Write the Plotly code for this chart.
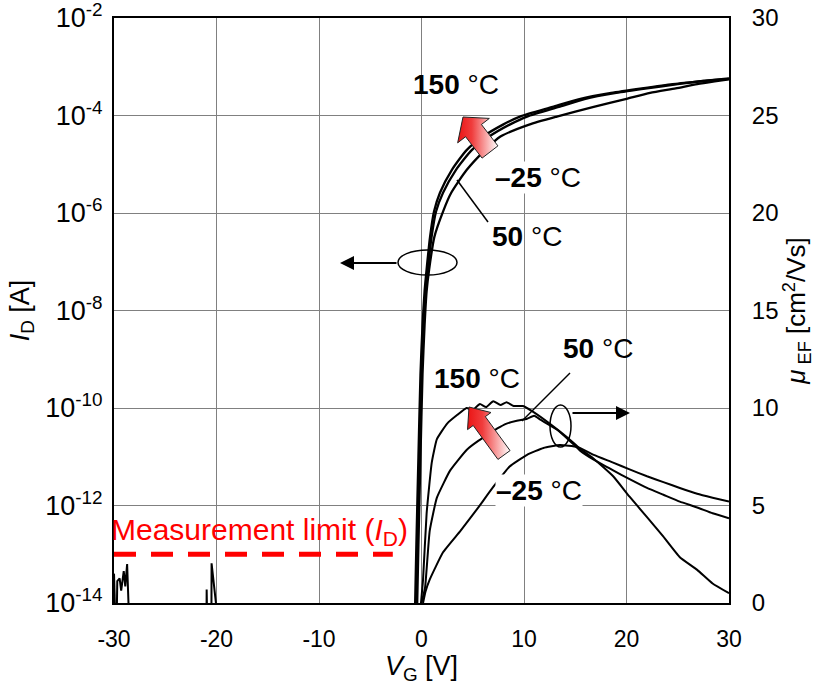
import numpy as np
import plotly.graph_objects as go

# ---------------- data ----------------
VG_TICKS = [-30, -20, -10, 0, 10, 20, 30]
VG_TICK_TEXT = ["-30", "-20", "-10", "0", "10", "20", "30"]
ID_TICKS = [1e-2, 1e-4, 1e-6, 1e-8, 1e-10, 1e-12, 1e-14]
ID_TICK_TEXT = ["10<sup>-2</sup>", "10<sup>-4</sup>", "10<sup>-6</sup>", "10<sup>-8</sup>",
                "10<sup>-10</sup>", "10<sup>-12</sup>", "10<sup>-14</sup>"]
MU_TICKS = [0, 5, 10, 15, 20, 25, 30]

# Drain current I_D [A] vs V_G [V]
VG_ID_150 = [-0.65, -0.5, -0.3, -0.1, 0.1, 0.3, 0.5, 0.83, 1.22, 1.8, 2.95, 4.4, 6.0, 7.95, 9.6, 12.8, 15.5,
             18.5, 21.5, 24.5, 27.5, 30.0]
ID_150 = [5.0e-15, 1.6e-13, 1e-11, 5.0e-10, 5.0e-9, 2.5e-8, 7.1e-8, 3.2e-7, 1.07e-6, 2.6e-6, 7.6e-6, 1.95e-5,
          3.7e-5, 6.5e-5, 9.5e-5, 1.5e-4, 2.2e-4, 2.9e-4, 3.6e-4, 4.4e-4, 5.1e-4, 5.75e-4]
VG_ID_50 = [-0.55, -0.4, -0.2, 0.0, 0.2, 0.4, 0.62, 0.98, 1.42, 2.1, 3.35, 4.9, 6.6, 8.6, 10.3, 13.4, 16.0,
            19.0, 22.0, 25.0, 27.5, 30.0]
ID_50 = [5.0e-15, 1.6e-13, 1e-11, 5.0e-10, 5.0e-9, 2.5e-8, 7.1e-8, 3.2e-7, 1.07e-6, 2.6e-6, 7.6e-6, 1.95e-5,
         3.7e-5, 6.5e-5, 9.5e-5, 1.5e-4, 2.2e-4, 2.9e-4, 3.6e-4, 4.4e-4, 5.1e-4, 5.65e-4]
VG_ID_M25 = [-0.45, -0.3, -0.1, 0.1, 0.3, 0.5, 0.75, 1.25, 2.1, 2.9, 4.4, 6.2, 7.7, 10.5, 13.2, 16.8, 20.0,
             22.3, 24.8, 26.9, 28.6, 30.0]
ID_M25 = [5.0e-15, 1.6e-13, 1e-11, 5.0e-10, 5.0e-9, 2.5e-8, 7.1e-8, 3.2e-7, 1.07e-6, 2.6e-6, 7.6e-6, 1.95e-5,
          3.7e-5, 6.5e-5, 9.5e-5, 1.5e-4, 2.2e-4, 2.9e-4, 3.6e-4, 4.4e-4, 5.0e-4, 5.5e-4]

# Off-state noise near the measurement floor
VG_NOISE = [-30.0, -29.85, None, -29.75, -29.68, -29.45, -29.3, -29.05, -28.9, -28.72, -28.5, None,
            -20.98, -20.96, -20.9, None, -20.5, -20.48, -19.78]
ID_NOISE = [4.0e-14, 3e-15, None, 3e-15, 2.8e-14, 3.2e-14, 1.8e-14, 4.5e-14, 2.2e-14, 6.3e-14, 3e-15, None,
            3e-15, 1.9e-14, 3e-15, None, 3e-15, 6.5e-14, 3e-15]

MEAS_LIMIT = 1e-13
VG_LIMIT = [-30.0, -2.8]

# Field-effect mobility mu_EF [cm^2/Vs] vs V_G [V]
VG_MU_150 = [-0.05, 0.15, 0.5, 1.0, 1.5, 2.5, 3.5, 4.4, 5.0, 5.7, 6.3, 7.0, 7.7, 8.3, 9.0, 9.9, 10.9, 12.5, 14.2,
             15.5, 16.8, 18.7, 20.3, 22.0, 23.6, 25.2, 26.9, 28.4, 30.0]
MU_150 = [0.0, 1.2, 4.6, 7.2, 8.4, 9.2, 9.65, 10.0, 9.9, 10.2, 10.05, 10.35, 10.15, 10.3, 10.1, 10.1, 9.8, 9.2, 8.5,
          7.9, 7.4, 6.5, 5.45, 4.4, 3.4, 2.35, 1.7, 1.0, 0.5]
VG_MU_50 = [0.0, 0.35, 0.8, 1.5, 2.8, 4.4, 5.5, 6.4, 7.4, 8.3, 9.3, 10.3, 11.0, 11.6, 13.2, 14.5, 15.5, 16.8, 18.7,
            20.3, 22.0, 23.6, 25.2, 26.9, 28.4, 30.0]
MU_50 = [0.0, 0.8, 3.7, 5.4, 6.8, 7.85, 8.3, 8.6, 8.95, 9.2, 9.35, 9.45, 9.6, 9.4, 8.9, 8.3, 7.8, 7.35, 6.8,
         6.35, 5.9, 5.55, 5.2, 4.9, 4.6, 4.35]
VG_MU_M25 = [0.15, 0.4, 0.8, 2.1, 3.8, 5.4, 7.0, 8.6, 10.3, 11.9, 13.5, 15.2, 16.8, 18.7, 20.3, 22.0, 23.6, 25.2,
             26.9, 28.4, 30.0]
MU_M25 = [0.0, 0.6, 1.2, 2.6, 3.7, 4.8, 5.95, 7.0, 7.6, 7.95, 8.1, 8.0, 7.6, 7.2, 6.85, 6.5, 6.2, 5.9, 5.6, 5.4, 5.2]

# ---------------- layout geometry (pixels) ----------------
W, H = 819, 685
ML, MR, MT, MB = 114, 90, 18, 82
PW, PH = W - ML - MR, H - MT - MB
X_RANGE = [-30, 30]
MU_RANGE = [0, 30]


def px2x(px):
    return X_RANGE[0] + (px - ML) * (X_RANGE[1] - X_RANGE[0]) / PW


def py2mu(py):
    return MU_RANGE[0] + (MT + PH - py) * (MU_RANGE[1] - MU_RANGE[0]) / PH


FONT = "Arial, 'Liberation Sans', sans-serif"

fig = go.Figure()

for vg, idv in [(VG_ID_150, ID_150), (VG_ID_50, ID_50), (VG_ID_M25, ID_M25)]:
    fig.add_trace(go.Scatter(x=vg, y=idv, mode="lines", line=dict(color="black", width=2.3, shape="spline", smoothing=0.6),
                             showlegend=False, hoverinfo="skip"))
fig.add_trace(go.Scatter(x=VG_NOISE, y=ID_NOISE, mode="lines", line=dict(color="black", width=2),
                         showlegend=False, hoverinfo="skip", connectgaps=False))
fig.add_trace(go.Scatter(x=VG_LIMIT, y=[MEAS_LIMIT, MEAS_LIMIT], mode="lines",
                         line=dict(color="red", width=5, dash="22px,15px"), showlegend=False, hoverinfo="skip"))

for vg, mu in [(VG_MU_150, MU_150), (VG_MU_50, MU_50), (VG_MU_M25, MU_M25)]:
    fig.add_trace(go.Scatter(x=vg, y=mu, yaxis="y2", mode="lines",
                             line=dict(color="black", width=2, shape="spline", smoothing=0.4),
                             showlegend=False, hoverinfo="skip"))


# red gradient block arrows
def block_arrow(tail, tip, shaft_len, shaft_hw, head_hw):
    T = np.array(tail, float)
    P = np.array(tip, float)
    d = (P - T) / np.linalg.norm(P - T)
    n = np.array([-d[1], d[0]])
    B = T + shaft_len * d
    pts = [T + shaft_hw * n, B + shaft_hw * n, B + head_hw * n, P, B - head_hw * n, B - shaft_hw * n,
           T - shaft_hw * n, T + shaft_hw * n]
    return [px2x(p[0]) for p in pts], [py2mu(p[1]) for p in pts]


for tail, tip, sl, shw, hhw in [((490, 152), (463, 117), 27, 10, 20), ((504, 455), (469, 407), 42, 7.5, 14.5)]:
    xs, ys = block_arrow(tail, tip, sl, shw, hhw)
    fig.add_trace(go.Scatter(x=xs, y=ys, yaxis="y2", mode="lines", fill="toself",
                             fillgradient=dict(type="horizontal",
                                               colorscale=[[0, "rgb(235,20,20)"], [0.35, "rgb(240,60,60)"],
                                                           [1, "rgb(255,255,255)"]]),
                             line=dict(color="#222222", width=1), showlegend=False, hoverinfo="skip"))

shapes = []
# ellipses
for (x0, x1, y0, y1) in [(398, 457, 250, 275), (550, 571, 405, 447)]:
    shapes.append(dict(type="circle", xref="x", yref="y2", x0=px2x(x0), x1=px2x(x1), y0=py2mu(y1), y1=py2mu(y0),
                       line=dict(color="black", width=1.5)))
# leader lines
for (xa, ya, xb, yb) in [(457, 180, 488, 222), (522, 421, 570, 373)]:
    shapes.append(dict(type="line", xref="x", yref="y2", x0=px2x(xa), y0=py2mu(ya), x1=px2x(xb), y1=py2mu(yb),
                       line=dict(color="black", width=1.5)))

annotations = []
# axis pointer arrows
for (tip, tail) in [((340, 263), (398, 263)), ((630, 413), (571, 413))]:
    annotations.append(dict(x=px2x(tip[0]), y=py2mu(tip[1]), xref="x", yref="y2",
                            ax=px2x(tail[0]), ay=py2mu(tail[1]), axref="x", ayref="y2",
                            showarrow=True, arrowhead=2, arrowsize=1.4, arrowwidth=2, arrowcolor="black", text=""))

labels = [
    ("<b>150</b> °C", 456, 84, None),
    ("<b>–25</b> °C", 538, 177, "white"),
    ("<b>50</b> °C", 527, 236, None),
    ("<b>150</b> °C", 477, 378, None),
    ("<b>50</b> °C", 598, 348, None),
    ("<b>–25</b> °C", 539, 490, "white"),
]
for txt, px, py, bg in labels:
    a = dict(x=px2x(px), y=py2mu(py), xref="x", yref="y2", text=txt, showarrow=False,
             font=dict(family=FONT, size=28, color="black"), xanchor="center", yanchor="middle")
    if bg:
        a["bgcolor"] = bg
        a["borderpad"] = 0
    annotations.append(a)

annotations.append(dict(x=px2x(259), y=py2mu(531), xref="x", yref="y2",
                        text="Measurement limit (<i>I</i><sub>D</sub>)", showarrow=False,
                        font=dict(family=FONT, size=30, color="red"), xanchor="center", yanchor="middle"))

fig.update_layout(
    width=W, height=H,
    margin=dict(l=ML, r=MR, t=MT, b=MB, pad=0, autoexpand=False),
    paper_bgcolor="white", plot_bgcolor="white",
    font=dict(family=FONT, color="black"),
    showlegend=False,
    xaxis=dict(range=X_RANGE, tickvals=VG_TICKS, ticktext=VG_TICK_TEXT, showgrid=True, gridcolor="#808080",
               gridwidth=1, zeroline=False, showline=True, linecolor="black", linewidth=2, mirror=True,
               ticks="", tickfont=dict(size=23), ticklabelstandoff=14, automargin=False,
               title=dict(text="<i>V</i><sub>G</sub> [V]", font=dict(size=27), standoff=4)),
    yaxis=dict(type="log", range=[-14, -2], tickvals=ID_TICKS, ticktext=ID_TICK_TEXT, showgrid=True,
               gridcolor="#808080", gridwidth=1, zeroline=False, showline=True, linecolor="black", linewidth=2,
               mirror=True, ticks="", tickfont=dict(size=27), ticklabelstandoff=4, automargin=False,
               ticklabeloverflow="allow",
               title=dict(text="<i>I</i><sub>D</sub> [A]", font=dict(size=27), standoff=8)),
    yaxis2=dict(range=MU_RANGE, tickvals=MU_TICKS, overlaying="y", side="right", showgrid=False, zeroline=False,
                showline=True, linecolor="black", linewidth=2, ticks="", tickfont=dict(size=24),
                ticklabelstandoff=16, automargin=False, ticklabeloverflow="allow",
                title=dict(text="<i>μ</i><sub> EF</sub> [cm<sup>2</sup>/Vs]", font=dict(size=26), standoff=6)),
    shapes=shapes,
    annotations=annotations,
)

fig.write_html("out.html")
